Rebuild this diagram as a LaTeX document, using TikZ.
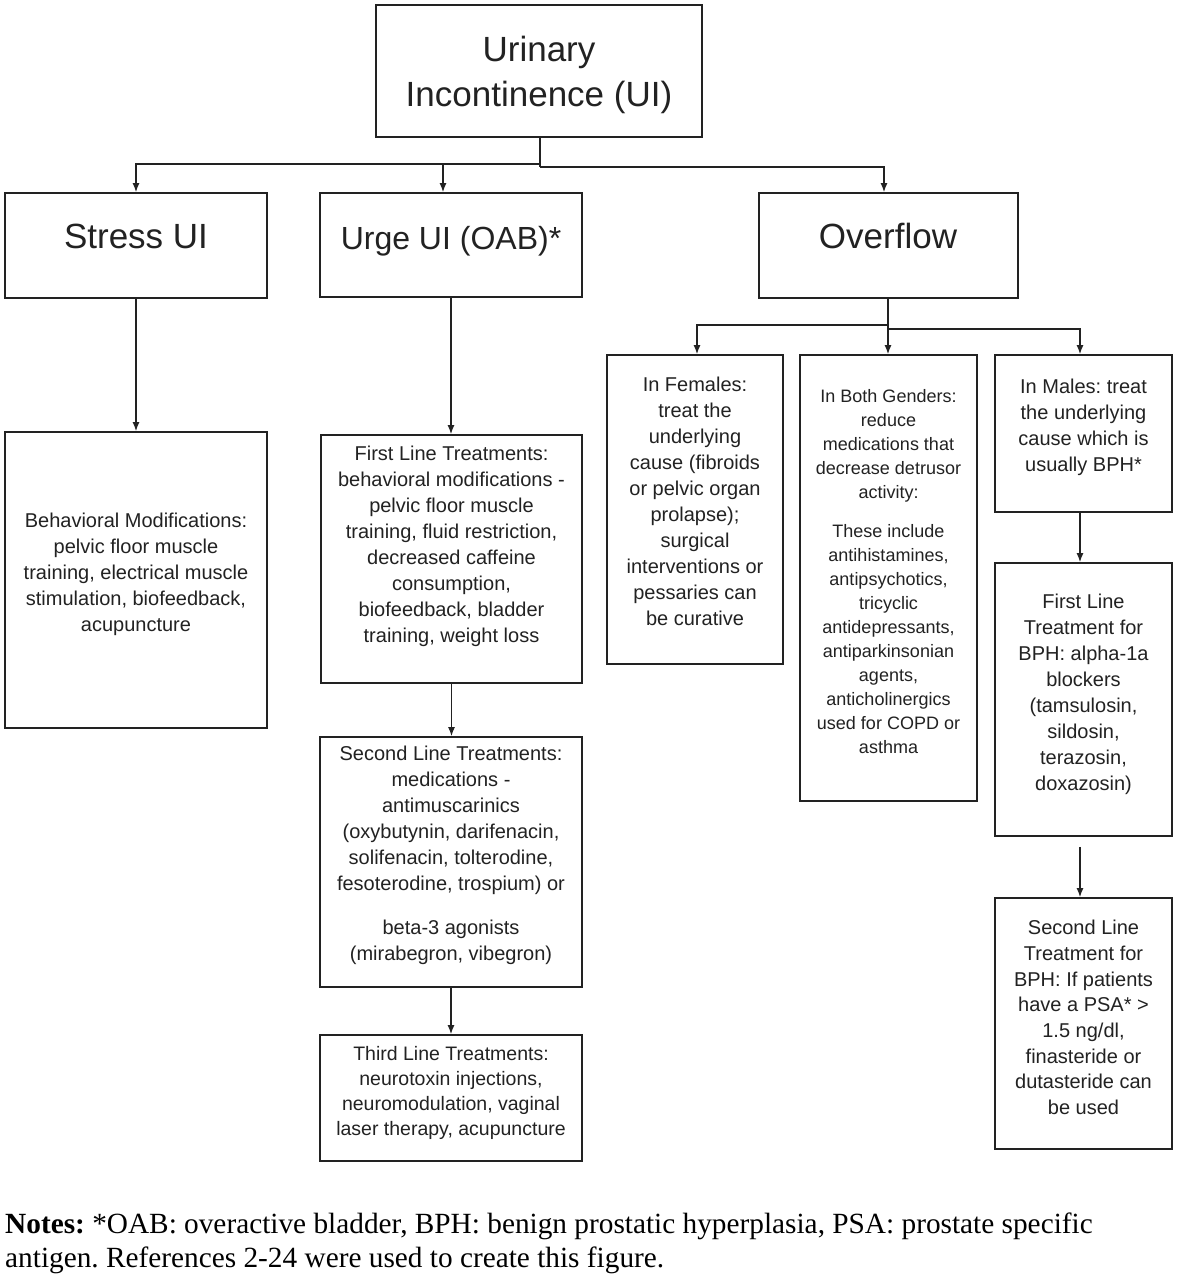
\documentclass[tikz,border=0pt]{standalone}
\usepackage{fontspec}
\setmainfont{Liberation Sans}
\newfontfamily\notefont{Liberation Serif}
\usetikzlibrary{arrows.meta}
\definecolor{ink}{HTML}{222222}
\frenchspacing
\begin{document}
\frenchspacing
\begin{tikzpicture}[x=1pt,y=-1pt,
  box/.style={draw=ink, line width=1.8pt, rectangle, inner sep=0pt},
  ttl/.style={text=ink, font=\fontsize{35}{45}\selectfont, align=center, inner sep=0pt},
  body/.style={text=ink, font=\fontsize{20}{26}\selectfont, align=center, inner sep=0pt, anchor=north},
  small/.style={text=ink, font=\fontsize{18}{24}\selectfont, align=center, inner sep=0pt, anchor=north},
  conn/.style={draw=ink, line width=1.3pt},
  arr/.style={conn, -{Latex[length=9pt,width=7pt]}},
]
\useasboundingbox[fill=white] (0,0) rectangle (1177,1280);

% boxes
\node[box, minimum width=326, minimum height=132] (UI) at (539,71) {};
\node[box, minimum width=262, minimum height=105] (Stress) at (136,245.5) {};
\node[box, minimum width=262, minimum height=104] (Urge) at (451,245) {};
\node[box, minimum width=259, minimum height=105] (Overflow) at (888.5,245.5) {};
\node[box, minimum width=262, minimum height=296] (Behav) at (136,580) {};
\node[box, minimum width=261, minimum height=248] (First) at (451.5,559) {};
\node[box, minimum width=262, minimum height=250] (Second) at (451,862) {};
\node[box, minimum width=262, minimum height=126] (Third) at (451,1098) {};
\node[box, minimum width=176, minimum height=309] (Fem) at (695,509.5) {};
\node[box, minimum width=177, minimum height=446] (Both) at (888.5,578) {};
\node[box, minimum width=177, minimum height=157] (Males) at (1083.5,433.5) {};
\node[box, minimum width=177, minimum height=273] (FBPH) at (1083.5,699.5) {};
\node[box, minimum width=177, minimum height=251] (SBPH) at (1083.5,1023.5) {};

% titles
\node[ttl] (UIt) at (539,75) {Urinary\\Incontinence (UI)};
\node[ttl] (Stresst) at (136,236) {Stress UI};
\node[ttl, font=\fontsize{32}{40}\selectfont] (Urget) at (451,241) {Urge UI (OAB)*};
\node[ttl] (Overflowt) at (888,236) {Overflow};

% body texts
\node[body] (Behavt) at (136,513) {Behavioral Modifications:\\pelvic floor muscle\\training, electrical muscle\\stimulation, biofeedback,\\acupuncture};
\node[body] (Firstt) at (451.5,446) {First Line Treatments:\\behavioral modifications -\\pelvic floor muscle\\training, fluid restriction,\\decreased caffeine\\consumption,\\biofeedback, bladder\\training, weight loss};
\node[body] (Secondt) at (451,746) {Second Line Treatments:\\medications -\\antimuscarinics\\(oxybutynin, darifenacin,\\solifenacin, tolterodine,\\fesoterodine, trospium) or\\[18pt]beta-3 agonists\\(mirabegron, vibegron)};
\node[body, font=\fontsize{19.5}{25}\selectfont] (Thirdt) at (451,1046) {Third Line Treatments:\\neurotoxin injections,\\neuromodulation, vaginal\\laser therapy, acupuncture};
\node[body] (Femt) at (695,377) {In Females:\\treat the\\underlying\\cause (fibroids\\or pelvic organ\\prolapse);\\surgical\\interventions or\\pessaries can\\be curative};
\node[small] (Botht) at (888.5,389) {In Both Genders:\\reduce\\medications that\\decrease detrusor\\activity:\\[15pt]These include\\antihistamines,\\antipsychotics,\\tricyclic\\antidepressants,\\antiparkinsonian\\agents,\\anticholinergics\\used for COPD or\\asthma};
\node[body] (Malest) at (1083.5,379) {In Males: treat\\the underlying\\cause which is\\usually BPH*};
\node[body] (FBPHt) at (1083.5,594) {First Line\\Treatment for\\BPH: alpha-1a\\blockers\\(tamsulosin,\\sildosin,\\terazosin,\\doxazosin)};
\node[body, font=\fontsize{20}{25.7}\selectfont] (SBPHt) at (1083.5,920) {Second Line\\Treatment for\\BPH: If patients\\have a PSA* >\\1.5 ng/dl,\\finasteride or\\dutasteride can\\be used};

% notes
\node[anchor=north west, inner sep=0pt, align=left, text=black,
      font=\notefont\fontsize{29.3}{34}\selectfont] (notes) at (5,1213)
  {\textbf{Notes:} *OAB: overactive bladder, BPH: benign prostatic hyperplasia, PSA: prostate specific\\antigen. References 2-24 were used to create this figure.};

% connectors: top level
\coordinate (jL) at (540,164);
\coordinate (jR) at (540,167);
\coordinate (uA) at (443,164);
\coordinate (oA) at (884,167);
\draw[conn] (UI.south -| jR) -- (jR);
\draw[arr] (jL) -| (Stress.north);
\draw[arr] (uA) -- (uA |- Urge.north);
\draw[arr] (jR) -| (oA |- Overflow.north);

% overflow branch
\coordinate (oB) at (888,325);
\coordinate (oC) at (888,329);
\coordinate (fA) at (697,325);
\coordinate (mA) at (1080,329);
\draw[conn] (Overflow.south -| oB) -- (oC);
\draw[arr] (oB) -| (fA |- Fem.north);
\draw[arr] (oC) -- (oC |- Both.north);
\draw[arr] (oC) -| (mA |- Males.north);

% vertical chains
\draw[arr] (Stress.south) -- (Stress.south |- Behav.north);
\draw[arr] (Urge.south) -- (Urge.south |- First.north);
\draw[arr] (First.south) -- (First.south |- Second.north);
\draw[arr] (Second.south) -- (Second.south |- Third.north);
\draw[arr] ([xshift=-3.5pt]Males.south) -- ([xshift=-3.5pt]FBPH.north);
\draw[arr] ([xshift=-3.5pt,yshift=-10pt]FBPH.south) -- ([xshift=-3.5pt]SBPH.north);
\end{tikzpicture}
\end{document}
